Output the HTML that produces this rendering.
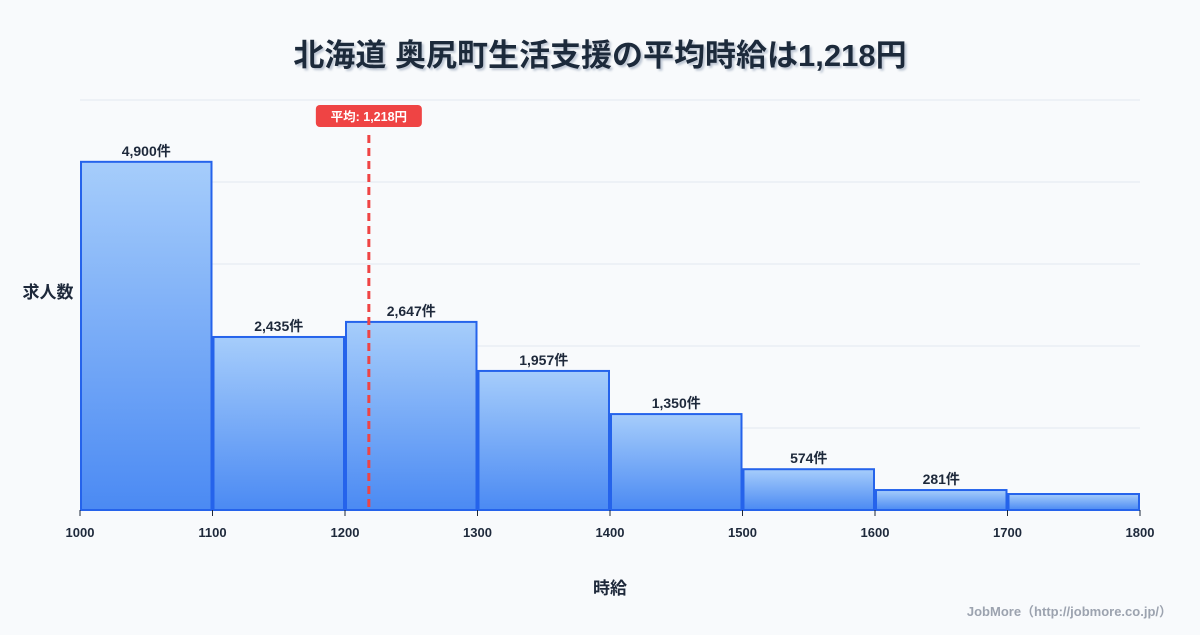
<!DOCTYPE html>
<html><head><meta charset="utf-8"><style>
body{margin:0;background:#f8fafc;font-family:"Liberation Sans","Noto Sans CJK JP",sans-serif;}
svg text{font-family:"Liberation Sans","Noto Sans CJK JP",sans-serif;}
</style></head><body>
<svg id="c" width="1200" height="630">
<defs><linearGradient id="g" x1="0" y1="0" x2="0" y2="1"><stop offset="0" stop-color="#a6cdfb"/><stop offset="1" stop-color="#4b8af3"/></linearGradient>
<filter id="sh" x="-5%" y="-20%" width="110%" height="150%"><feDropShadow dx="2" dy="2" stdDeviation="1" flood-color="#94a3b8" flood-opacity="0.6"/></filter></defs>
<rect width="1200" height="630" fill="#f8fafc"/>
<text x="600" y="66" text-anchor="middle" font-size="31" font-weight="bold" fill="#1e293b" filter="url(#sh)">北海道 奥尻町生活支援の平均時給は1,218円</text>
<g id="grid"></g><g id="bars"></g><g id="axis"></g><g id="mean"></g>
<text x="48" y="298" text-anchor="middle" font-size="17" font-weight="bold" fill="#1e293b">求人数</text>
<text x="610" y="594" text-anchor="middle" font-size="17" font-weight="bold" fill="#1e293b">時給</text>
<text x="1172" y="616" text-anchor="end" font-size="13" font-weight="bold" fill="#9ca3af">JobMore（http://jobmore.co.jp/）</text>
</svg>
<script>
const binEdges=[1000,1100,1200,1300,1400,1500,1600,1700,1800];
const counts=[4900,2435,2647,1957,1350,574,281,225];
const labels=["4,900件","2,435件","2,647件","1,957件","1,350件","574件","281件",""];
const meanValue=1218;
const meanLabel="平均: 1,218円";
const NS="http://www.w3.org/2000/svg";
const x0=80,x1=1140,yb=510,yt=100,yMax=5770;
const X=v=>x0+(v-1000)/(800)*(x1-x0);
const Y=v=>yb-v/yMax*(yb-yt);
function mk(t,a,p){const e=document.createElementNS(NS,t);for(const k in a)e.setAttribute(k,a[k]);p.appendChild(e);return e;}
const grid=document.getElementById('grid');
for(let i=0;i<=5;i++){const y=yt+i*(yb-yt)/5;
const l=mk('line',{x1:x0,x2:x1,y1:y,y2:y,stroke:'#e2e8f0','stroke-width':1},grid);

}
const bars=document.getElementById('bars');
counts.forEach((c,i)=>{const a=X(binEdges[i]),b=X(binEdges[i+1]);
const r=mk('rect',{x:a+1,y:Y(c),width:b-a-2,height:yb-Y(c),fill:'url(#g)',stroke:'#2563eb','stroke-width':2},bars);


if(labels[i]){const t=mk('text',{x:(a+b)/2,y:Y(c)-6,'text-anchor':'middle','font-size':14,'font-weight':'bold',fill:'#1e293b'},bars);t.textContent=labels[i];

}});
const ax=document.getElementById('axis');
binEdges.forEach(v=>{const x=X(v);
const tk=mk('line',{x1:x,x2:x,y1:yb,y2:yb+6,stroke:'#1e293b','stroke-width':1},ax);


const t=mk('text',{x:x,y:537,'text-anchor':'middle','font-size':13,'font-weight':'bold',fill:'#1e293b'},ax);t.textContent=v;

});
const m=document.getElementById('mean');const mx=X(meanValue);
const ml=mk('line',{x1:mx,x2:mx,y1:135,y2:yb,stroke:'#ef4444','stroke-width':3,'stroke-dasharray':'8,5'},m);


const mb=mk('rect',{x:mx-53,y:105,width:106,height:22,rx:4,fill:'#ef4444'},m);


const mt=mk('text',{x:mx,y:121,'text-anchor':'middle','font-size':12.5,'font-weight':'bold',fill:'#fff'},m);mt.textContent=meanLabel;


</script>
</body></html>
